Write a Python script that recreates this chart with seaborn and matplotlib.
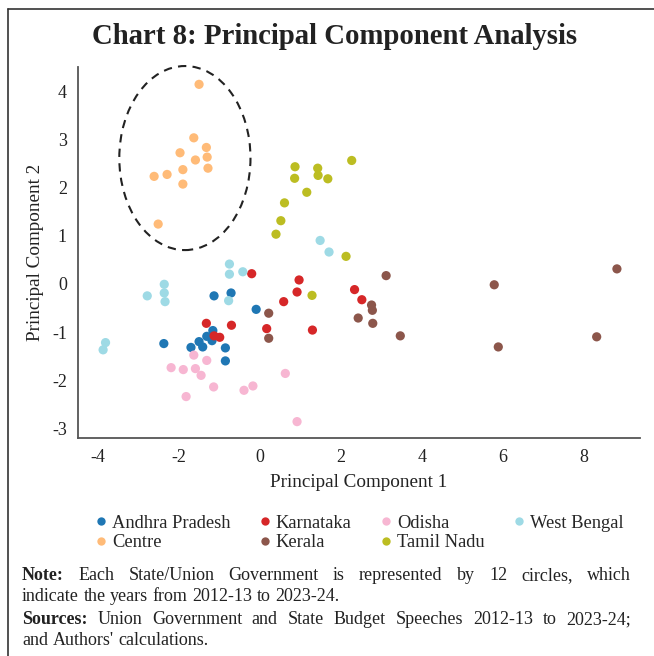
import numpy as np
import pandas as pd
import matplotlib
matplotlib.use("Agg")
import matplotlib.pyplot as plt
import seaborn as sns
from matplotlib.patches import Ellipse
from matplotlib.lines import Line2D

# ---------------- data ----------------
andhra_x = [-1.14, -0.72, -0.10, -2.38, -1.71, -1.51, -1.42, -1.32, -1.17, -1.19, -0.86, -0.86]
andhra_y = [-0.25, -0.19, -0.53, -1.24, -1.32, -1.20, -1.31, -1.09, -0.97, -1.18, -1.33, -1.60]

centre_x = [-1.51, -1.64, -1.98, -1.33, -1.31, -1.60, -1.29, -1.91, -2.30, -2.62, -1.91, -2.52]
centre_y = [4.14, 3.03, 2.72, 2.83, 2.63, 2.57, 2.40, 2.37, 2.27, 2.23, 2.07, 1.24]

karnataka_x = [-0.21, 0.96, 0.91, 0.58, -1.33, -0.71, 0.16, -1.14, -1.00, 1.29, 2.33, 2.51]
karnataka_y = [0.21, 0.08, -0.17, -0.37, -0.82, -0.86, -0.93, -1.08, -1.11, -0.96, -0.12, -0.33]

kerala_x = [0.21, 0.21, 2.42, 3.11, 5.78, 8.81, 2.75, 2.77, 2.78, 3.46, 5.88, 8.31]
kerala_y = [-0.61, -1.13, -0.71, 0.17, -0.02, 0.31, -0.44, -0.55, -0.82, -1.08, -1.31, -1.10]

odisha_x = [-1.64, -2.20, -1.90, -1.60, -1.32, -1.46, -1.83, -1.15, -0.40, -0.18, 0.62, 0.91]
odisha_y = [-1.48, -1.74, -1.78, -1.76, -1.59, -1.90, -2.34, -2.14, -2.21, -2.12, -1.86, -2.86]

tamil_x = [2.26, 0.86, 1.42, 0.85, 1.43, 1.67, 1.15, 0.60, 0.51, 0.39, 2.12, 1.28]
tamil_y = [2.56, 2.43, 2.40, 2.19, 2.25, 2.18, 1.90, 1.68, 1.31, 1.03, 0.57, -0.24]

wb_x = [-0.76, -0.76, -0.43, 1.48, 1.70, -2.79, -2.37, -2.37, -2.35, -3.82, -3.88, -0.78]
wb_y = [0.41, 0.20, 0.25, 0.90, 0.66, -0.25, -0.01, -0.19, -0.37, -1.22, -1.37, -0.35]

groups = ["Andhra Pradesh", "Centre", "Karnataka", "Kerala", "Odisha", "Tamil Nadu", "West Bengal"]
colors = ["#1f77b4", "#ffbb78", "#d62728", "#8c564b", "#f7b6d2", "#bcbd22", "#9edae5"]
xs = [andhra_x, centre_x, karnataka_x, kerala_x, odisha_x, tamil_x, wb_x]
ys = [andhra_y, centre_y, karnataka_y, kerala_y, odisha_y, tamil_y, wb_y]

x_ticks = [-4, -2, 0, 2, 4, 6, 8]
y_ticks = [-3, -2, -1, 0, 1, 2, 3, 4]

# Centre cluster highlight
ell_center = (-1.86, 2.61)
ell_w, ell_h = 3.24, 3.82

title = "Chart 8: Principal Component Analysis"
xlabel = "Principal Component 1"
ylabel = "Principal Component 2"

# ---------------- build frame ----------------
df = pd.concat(
    [pd.DataFrame({"PC1": x, "PC2": y, "State": g}) for g, x, y in zip(groups, xs, ys)],
    ignore_index=True,
)

sns.set_theme(style="white")
FONT = ["Liberation Serif", "DejaVu Serif"]
plt.rcParams["font.family"] = FONT
plt.rcParams["axes.unicode_minus"] = False

W, H = 654, 656
fig = plt.figure(figsize=(W / 100, H / 100), dpi=100)
ax = fig.add_axes([78 / W, 1 - 438 / H, (640 - 78) / W, (438 - 67) / H])

sns.scatterplot(
    data=df, x="PC1", y="PC2", hue="State", hue_order=groups,
    palette=dict(zip(groups, colors)), s=44, linewidth=0, ax=ax, legend=True,
)

ax.add_patch(Ellipse(ell_center, ell_w, ell_h, fill=False, edgecolor="#222222",
                     linestyle=(0, (4, 3)), linewidth=1.5, clip_on=False))

ax.set_xlim(-4.5, 9.38)
ax.set_ylim(-3.2, 4.5)
ax.set_xticks(x_ticks)
ax.set_yticks(y_ticks)
ax.tick_params(axis="both", which="both", direction="out", length=5, width=1,
               color="#555555", labelsize=13, labelcolor="#222222", pad=3)
for sp in ["top", "right"]:
    ax.spines[sp].set_visible(False)
for sp in ["left", "bottom"]:
    ax.spines[sp].set_color("#555555")
    ax.spines[sp].set_linewidth(1.3)
ax.set_xlabel(xlabel, fontsize=13.8, color="#222222", labelpad=6)
ax.set_ylabel(ylabel, fontsize=13.8, color="#222222", labelpad=6)

handles, labels = ax.get_legend_handles_labels()
ax.get_legend().remove()
for h in handles:
    try:
        h.set_markersize(6)
    except Exception:
        pass
fig.legend(handles, labels, ncol=4, loc="upper center", bbox_to_anchor=(0.548, 1 - 498 / H),
           frameon=False, fontsize=13.3, handletextpad=0.2, columnspacing=1.45,
           labelspacing=0.15, handlelength=0.8, markerscale=1.0)

fig.suptitle(title, x=335 / W, y=1 - 37 / H, va="center", fontsize=20.7,
             fontweight="bold", color="#222222")

# figure frame lines (top and left)
fig.add_artist(Line2D([8 / W, 1], [1 - 9 / H, 1 - 9 / H], transform=fig.transFigure,
                      color="#333333", linewidth=1.2))
fig.add_artist(Line2D([8 / W, 8 / W], [0, 1 - 9 / H], transform=fig.transFigure,
                      color="#333333", linewidth=1.2))

# ---------------- notes (justified) ----------------
NOTE_FS = 13
renderer = fig.canvas.get_renderer()


def draw_line(words, y_px, x0=22, x1=631, justify=True):
    arts, widths = [], []
    for w, wt in words:
        t = fig.text(0, 1 - y_px / H, w, fontsize=NOTE_FS, fontweight=wt,
                     color="#222222", ha="left", va="baseline")
        widths.append(t.get_window_extent(renderer).width)
        arts.append(t)
    if justify and len(words) > 1:
        gap = (x1 - x0 - sum(widths)) / (len(words) - 1)
    else:
        gap = NOTE_FS * 1.389 * 0.25
    x = x0
    for t, w in zip(arts, widths):
        t.set_x(x / W)
        x += w + gap


def words_of(text, first_bold=False):
    parts = text.split(" ")
    return [(p, "bold" if (first_bold and i == 0) else "normal") for i, p in enumerate(parts)]


draw_line(words_of("Note: Each State/Union Government is represented by 12 circles, which", True), 580)
draw_line(words_of("indicate the years from 2012-13 to 2023-24."), 601, justify=False)
draw_line(words_of("Sources: Union Government and State Budget Speeches 2012-13 to 2023-24;", True), 624)
draw_line(words_of("and Authors' calculations."), 645, justify=False)

fig.savefig("out.png", dpi=100)
